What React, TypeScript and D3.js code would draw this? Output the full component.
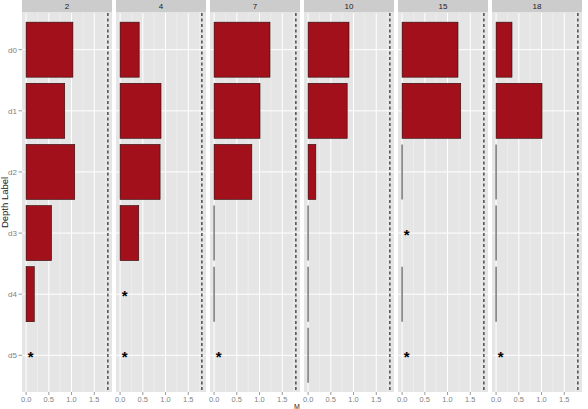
import * as d3 from 'd3';

// facets (strip labels) and depth categories
const facets = ['2', '4', '7', '10', '15', '18'];
const depths = ['d0', 'd1', 'd2', 'd3', 'd4', 'd5'];

// M per depth for each facet; null = missing (drawn as a star)
const m2 = [1.03, 0.85, 1.07, 0.56, 0.18, null];
const m4 = [0.42, 0.9, 0.88, 0.41, null, null];
const m7 = [1.23, 1.01, 0.83, 0, 0, null];
const m10 = [0.9, 0.86, 0.17, 0, 0, 0];
const m15 = [1.23, 1.29, 0, null, 0, null];
const m18 = [0.35, 1.01, 0, 0, 0, null];
const series = [m2, m4, m7, m10, m15, m18];

const thresholdM = 1.8;
const starM = 0.1;
const xTicks = [0, 0.5, 1.0, 1.5];

const W = 588;
const H = 409;
const left = 22;
const top = 13;
const bottom = 392;
const panelW = 90;
const gap = 4;
const font = '"Liberation Sans", Arial, sans-serif';

export default function App() {
  const x = d3.scaleLinear().domain([-0.09, 1.89]).range([0, panelW]);
  const y = d3.scaleBand<string>().domain(depths).range([top, bottom]).paddingInner(0.1).paddingOuter(0.15);
  const minor = xTicks.map(t => t + 0.25).filter(t => t <= 1.89);
  const totalW = facets.length * panelW + (facets.length - 1) * gap;

  return (
    <svg width={W} height={H} style={{ position: 'fixed', left: 0, top: 0 }} fontFamily={font}>
      <rect width={W} height={H} fill="white" />
      {facets.map((f, i) => {
        const px = left + i * (panelW + gap);
        const vals = series[i];
        return (
          <g key={f} transform={`translate(${px},0)`}>
            <rect x={0} y={0} width={panelW} height={top - 0.5} fill="#cccccc" />
            <text x={panelW / 2} y={9} textAnchor="middle" fontSize={8} fill="#1a1a1a">{f}</text>
            <rect x={0} y={top} width={panelW} height={bottom - top} fill="#e5e5e5" />
            {minor.map(t => (
              <line key={'m' + t} x1={x(t)} x2={x(t)} y1={top} y2={bottom} stroke="#f2f2f2" strokeWidth={0.6} />
            ))}
            {xTicks.map(t => (
              <line key={'g' + t} x1={x(t)} x2={x(t)} y1={top} y2={bottom} stroke="white" strokeWidth={1} />
            ))}
            {depths.map(d => (
              <line key={'h' + d} x1={0} x2={panelW} y1={y(d)! + y.bandwidth() / 2} y2={y(d)! + y.bandwidth() / 2} stroke="white" strokeWidth={1} />
            ))}
            {depths.map((d, j) => {
              const v = vals[j];
              const cy = y(d)! + y.bandwidth() / 2;
              if (v === null) {
                return (
                  <text key={d} x={x(starM)} y={cy + 7} textAnchor="middle" fontSize={15} fontWeight="bold" fill="black">*</text>
                );
              }
              if (v === 0) {
                return (
                  <line key={d} x1={x(0)} x2={x(0)} y1={y(d)!} y2={y(d)! + y.bandwidth()} stroke="#666" strokeWidth={1.3} />
                );
              }
              return (
                <rect key={d} x={x(0)} y={y(d)!} width={x(v) - x(0)} height={y.bandwidth()} fill="#a2101c" stroke="#2a0a0a" strokeWidth={0.6} />
              );
            })}
            <line x1={x(thresholdM)} x2={x(thresholdM)} y1={top} y2={bottom} stroke="black" strokeWidth={1} strokeDasharray="3,2.5" />
            {xTicks.map(t => (
              <g key={'t' + t}>
                <line x1={x(t)} x2={x(t)} y1={bottom} y2={bottom + 3} stroke="#7f7f7f" strokeWidth={0.8} />
                <text x={x(t)} y={bottom + 9.5} textAnchor="middle" fontSize={7.5} fill="#7f7f7f">{t.toFixed(1)}</text>
              </g>
            ))}
          </g>
        );
      })}
      {depths.map(d => {
        const cy = y(d)! + y.bandwidth() / 2;
        return (
          <g key={'y' + d}>
            <line x1={left - 3.5} x2={left} y1={cy} y2={cy} stroke="#7f7f7f" strokeWidth={0.8} />
            <text x={left - 5} y={cy + 3} textAnchor="end" fontSize={8} fill="#7f7f7f">{d}</text>
          </g>
        );
      })}
      <text transform={`translate(8,${(top + bottom) / 2}) rotate(-90)`} textAnchor="middle" fontSize={9.5} fill="#222">Depth Label</text>
      <text x={left + totalW / 2 - 5} y={408.5} textAnchor="middle" fontSize={7} fill="#222">M</text>
    </svg>
  );
}
